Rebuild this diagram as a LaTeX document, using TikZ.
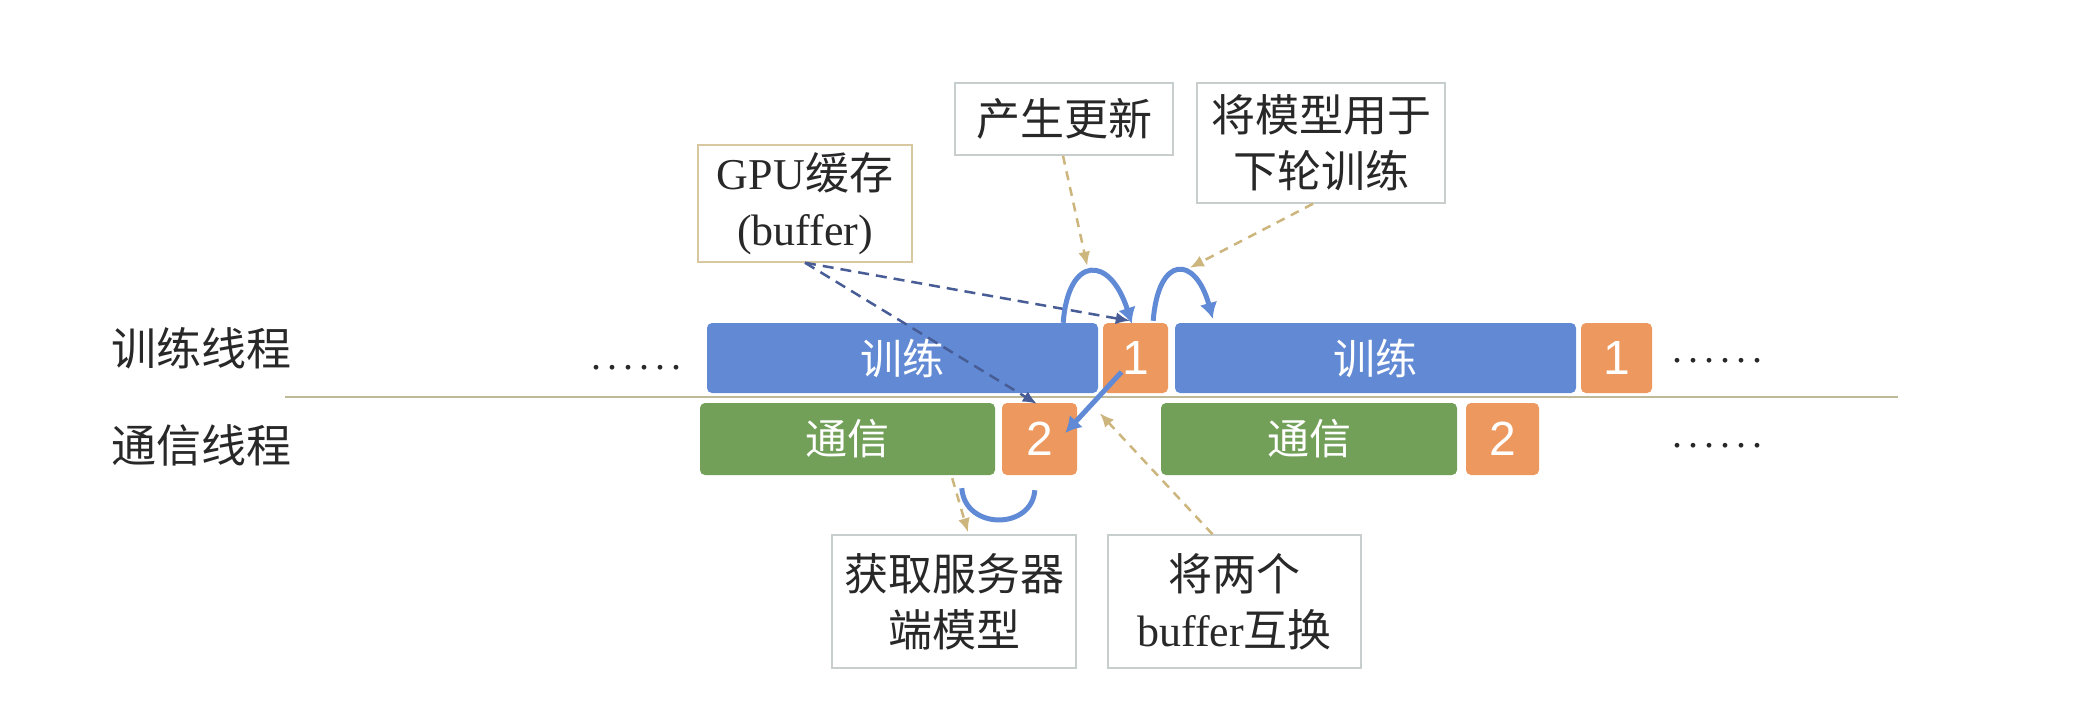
\documentclass[tikz,border=0pt]{standalone}
\usepackage{fontspec}
\setmainfont{Liberation Serif}
\newfontfamily\cjk{Noto Sans CJK SC}
\newfontfamily\numfont{Liberation Sans}
\usetikzlibrary{arrows.meta}
\definecolor{barblue}{RGB}{98,138,212}
\definecolor{bargreen}{RGB}{114,160,88}
\definecolor{boxorange}{RGB}{237,152,94}
\definecolor{arrowblue}{RGB}{96,138,214}
\definecolor{dashblue}{RGB}{72,92,150}
\definecolor{tandash}{RGB}{205,182,125}
\definecolor{notegray}{RGB}{200,205,205}
\definecolor{notetan}{RGB}{215,200,160}
\definecolor{notetext}{RGB}{40,40,40}
\definecolor{sepline}{RGB}{190,186,152}
\newcommand\sixdots{.\hskip6pt.\hskip6pt.\hskip6pt.\hskip6pt.\hskip6pt.}
\begin{document}
\begin{tikzpicture}[x=1pt,y=-1pt,
  bar/.style={rounded corners=5pt, inner sep=0pt, text=white,
    font=\cjk\fontsize{42}{42}\selectfont, minimum height=70pt},
  bluebar/.style={bar, fill=barblue},
  greenbar/.style={bar, fill=bargreen, minimum height=72pt},
  numbox/.style={bar, fill=boxorange, font=\numfont\fontsize{48}{48}\selectfont},
  note/.style={draw=notegray, line width=1.5pt, inner sep=0pt, align=center,
    font=\fontsize{44}{56}\selectfont, text=notetext},
  rowlabel/.style={inner sep=0pt, text=notetext, font=\cjk\fontsize{45}{45}\selectfont},
  dotsnode/.style={inner sep=0pt, text=notetext, font=\fontsize{40}{40}\selectfont, anchor=base},
  bluearrow/.style={draw=arrowblue, line width=5pt, -{Latex[length=16pt,width=18pt]}},
  bluedash/.style={draw=dashblue, line width=2.5pt, dash pattern=on 11pt off 7pt,
    -{Latex[length=14pt,width=12pt]}},
  tanline/.style={draw=tandash, line width=2.5pt, dash pattern=on 9pt off 7pt,
    -{Latex[length=14pt,width=12pt]}}
]
\useasboundingbox[fill=white] (0,0) rectangle (2094,710);

% row labels
\node[rowlabel] (ltrain) at (201,348) {训练线程};
\node[rowlabel] (lcomm) at (201,445) {通信线程};

% separator
\coordinate (sepA) at (285,397);
\coordinate (sepB) at (1898,397);
\draw[sepline, line width=2pt] (sepA) -- (sepB);

% bars
\node[bluebar, minimum width=391pt] (t1) at (902.5,358) {训练};
\node[numbox, minimum width=65pt] (o1a) at (1135.5,358) {1};
\node[bluebar, minimum width=401pt] (t2) at (1375.5,358) {训练};
\node[numbox, minimum width=71pt] (o1b) at (1616.5,358) {1};

\node[greenbar, minimum width=295pt] (c1) at (847.5,439) {通信};
\node[numbox, minimum width=75pt, minimum height=72pt] (o2a) at (1039.5,439) {2};
\node[greenbar, minimum width=296pt] (c2) at (1309,439) {通信};
\node[numbox, minimum width=73pt, minimum height=72pt] (o2b) at (1502.5,439) {2};

% dots
\node[dotsnode] (dl) at (636,369) {\sixdots};
\node[dotsnode] (dr1) at (1717,362) {\sixdots};
\node[dotsnode] (dr2) at (1717,447) {\sixdots};

% notes
\node[note, draw=notetan, minimum width=214pt, minimum height=117pt] (gpu) at (805,203.5)
  {GPU{\cjk 缓存}\\(buffer)};
\node[note, minimum width=218pt, minimum height=72pt] (upd) at (1064,119) {\cjk 产生更新};
\node[note, minimum width=248pt, minimum height=120pt] (use) at (1321,143)
  {\cjk 将模型用于\\\cjk 下轮训练};
\node[note, minimum width=244pt, minimum height=133pt] (get) at (954,601.5)
  {\cjk 获取服务器\\\cjk 端模型};
\node[note, minimum width=253pt, minimum height=133pt] (swap) at (1234.5,601.5)
  {{\cjk 将两个}\\buffer{\cjk 互换}};

% GPU buffer dashed pointers
\draw[bluedash] (gpu.south) -- ([xshift=27pt,yshift=2pt]o1a.north west);
\draw[bluedash] (gpu.south) -- ([xshift=35pt,yshift=-1pt]o2a.north west);

% arcs on training row
\draw[bluearrow] ([xshift=-35pt]t1.north east)
  .. controls ([xshift=-30pt,yshift=68pt]t1.north east) and ([xshift=12pt,yshift=68pt]t1.north east)
  .. ([xshift=29pt,yshift=-1pt]o1a.north west);
\draw[bluearrow] ([xshift=-15pt,yshift=2pt]o1a.north east)
  .. controls ([xshift=-10pt,yshift=68pt]o1a.north east) and ([xshift=27pt,yshift=68pt]o1a.north east)
  .. ([xshift=38pt,yshift=4pt]t2.north west);

% swap arrow
\draw[bluearrow] ([xshift=-14pt,yshift=-14pt]o1a.center) -- ([xshift=-12pt,yshift=6pt]o2a.east);

% fetch arc below
\draw[arrowblue, line width=5pt] ([xshift=-40pt,yshift=-13pt]o2a.south west)
  .. controls ([xshift=-37pt,yshift=-55pt]o2a.south west) and ([xshift=30pt,yshift=-55pt]o2a.south west)
  .. ([xshift=33pt,yshift=-15pt]o2a.south west);

% tan dashed pointers
\draw[tanline] ([xshift=-1pt]upd.south) -- ([xshift=-11pt,yshift=57pt]t1.north east);
\draw[tanline] ([xshift=-8pt]use.south) -- ([xshift=15pt,yshift=55pt]t2.north west);
\draw[tanline] ([xshift=-43pt,yshift=-3pt]c1.south east) -- ([xshift=14pt,yshift=2pt]get.north);
\draw[tanline] ([xshift=-22pt]swap.north) -- ([xshift=-3pt,yshift=-20pt]o1a.south west);
\end{tikzpicture}
\end{document}
